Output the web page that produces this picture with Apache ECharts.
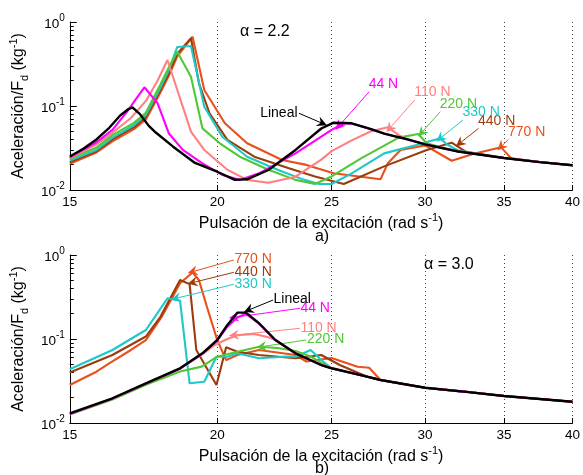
<!DOCTYPE html>
<html><head><meta charset="utf-8">
<script src="https://cdn.jsdelivr.net/npm/echarts@6/dist/echarts.min.js"></script>
<style>html,body{margin:0;padding:0;background:#fff}#c{width:583px;height:475px}</style>
</head><body><div id="c"></div>
<script>
const FONT = '"Liberation Sans", Arial, sans-serif';
const xTicks = [15, 20, 25, 30, 35, 40];
const yMajor = [0.01, 0.1, 1];
const yMinor = [0.02,0.03,0.04,0.05,0.06,0.07,0.08,0.09,0.2,0.3,0.4,0.5,0.6,0.7,0.8,0.9];
const names = ['770 N', '440 N', '330 N', '220 N', '110 N', '44 N', 'Lineal'];
const colors = ['#e8501c', '#9c3c0c', '#1ec8c8', '#4fc834', '#ff8080', '#ff00ff', '#000000'];
const panelTitles = ['α = 2.2', 'α = 3.0'];
const panelTags = ['a)', 'b)'];

// ---- panel a) alpha = 2.2 ----
const top770 = [[15,0.0205],[15.8,0.028],[16.3,0.038],[17.0,0.053],[17.4,0.069],[17.9,0.145],[18.2,0.23],[18.5,0.39],[19.06,0.669],[19.5,0.155],[20.3,0.0623],[21.2,0.036],[22.7,0.0228],[23.8,0.0199],[25.1,0.0158],[27.5,0.0134],[27.9,0.0208],[28.6,0.030],[30.0,0.034],[31.6,0.0223],[33.0,0.027],[34.8,0.0322],[35.5,0.0238],[37.5,0.0215],[40,0.0197]];
const top440 = [[15,0.0215],[15.8,0.029],[16.3,0.040],[17.0,0.056],[17.4,0.074],[17.9,0.155],[18.2,0.245],[18.5,0.42],[19.0,0.64],[19.3,0.186],[19.7,0.082],[20.4,0.0395],[21.5,0.0249],[23.0,0.0182],[24.2,0.0145],[25.6,0.0118],[27.7,0.0191],[30.1,0.030],[31.6,0.0366],[32.5,0.0285],[35,0.024],[37.5,0.0215],[40,0.0197]];
const top330 = [[15,0.0225],[15.8,0.030],[16.3,0.042],[17.0,0.059],[17.4,0.078],[17.9,0.165],[18.2,0.27],[18.5,0.505],[19.0,0.518],[19.5,0.098],[20.2,0.0431],[21.2,0.0249],[22.5,0.0174],[23.7,0.0132],[24.4,0.0118],[25,0.0118],[26,0.0158],[27.7,0.0273],[29.5,0.0343],[30.9,0.0412],[31.3,0.035],[32,0.0295],[35,0.024],[37.5,0.0215],[40,0.0197]];
const top220 = [[15,0.0235],[15.8,0.032],[16.3,0.045],[17.0,0.063],[17.4,0.083],[17.9,0.18],[18.2,0.29],[18.5,0.443],[19.0,0.223],[19.43,0.0542],[20.1,0.036],[20.9,0.0249],[22.1,0.0174],[23.3,0.0132],[24.2,0.0118],[25,0.0145],[26.5,0.024],[28.5,0.042],[29.6,0.0464],[30.1,0.036],[31,0.032],[32,0.0287],[35,0.024],[37.5,0.0215],[40,0.0197]];
const top110 = [[15,0.024],[15.8,0.035],[16.3,0.048],[16.9,0.072],[17.4,0.115],[17.8,0.2],[18.15,0.353],[18.5,0.155],[19.0,0.0495],[19.5,0.030],[20.4,0.0174],[21.2,0.0132],[22.1,0.0122],[23.3,0.0144],[24.5,0.023],[25,0.029],[26,0.039],[27,0.05],[27.9,0.056],[28.5,0.045],[29,0.040],[30,0.035],[32,0.0287],[35,0.024],[37.5,0.0215],[40,0.0197]];
const top44 = [[15,0.0245],[15.8,0.037],[16.3,0.052],[16.8,0.088],[17.0,0.112],[17.35,0.167],[17.8,0.108],[18.2,0.047],[18.7,0.030],[19.43,0.0208],[20.2,0.0151],[20.9,0.0132],[21.7,0.0158],[23.3,0.0273],[24.5,0.0431],[25.0,0.052],[25.6,0.062],[26.0,0.0618],[27,0.053],[27.7,0.047],[28.4,0.043],[29,0.040],[30,0.035],[32,0.0287],[35,0.024],[37.5,0.0215],[40,0.0197]];
const topLineal = [[15,0.025],[15.4,0.031],[15.8,0.040],[16.2,0.055],[16.55,0.077],[16.8,0.091],[16.95,0.0965],[17.2,0.080],[17.5,0.058],[17.75,0.048],[18.34,0.033],[19.15,0.021],[20,0.0165],[20.7,0.0132],[21.2,0.0134],[22.1,0.0173],[23.3,0.030],[24.5,0.054],[25.1,0.0633],[26.0,0.0622],[27,0.053],[27.7,0.047],[28.4,0.043],[29,0.040],[30,0.035],[32,0.0287],[35,0.024],[37.5,0.0215],[40,0.0197]];

// ---- panel b) alpha = 3.0 ----
const bot770 = [[15,0.0283],[15.8,0.0408],[16.3,0.054],[16.9,0.074],[17.4,0.097],[17.95,0.184],[18.6,0.46],[19.06,0.62],[19.3,0.50],[19.6,0.242],[20.0,0.097],[20.35,0.056],[20.8,0.0645],[21.7,0.074],[23.3,0.0645],[23.8,0.054],[25,0.0595],[26.3,0.0468],[26.9,0.0455],[27.5,0.0325],[30,0.0263],[32.5,0.0235],[35,0.021],[40,0.0179]];
const bot440 = [[15,0.040],[16.3,0.0645],[17.4,0.107],[17.9,0.184],[18.6,0.504],[18.95,0.45],[19.2,0.074],[19.97,0.0283],[20.35,0.0796],[20.8,0.0706],[21.7,0.0645],[23.3,0.0589],[24.5,0.0645],[25.4,0.049],[26.8,0.0356],[27.5,0.0325],[30,0.0263],[32.5,0.0235],[35,0.021],[40,0.0179]];
const bot330 = [[15,0.0436],[16.3,0.074],[17.4,0.128],[18.15,0.305],[18.6,0.285],[18.95,0.0297],[19.5,0.031],[19.97,0.0616],[20.4,0.0616],[20.8,0.0676],[21.7,0.0589],[22.9,0.062],[23.3,0.0616],[24.0,0.074],[24.5,0.0562],[25,0.0448],[26.8,0.0356],[27.5,0.0325],[30,0.0263],[32.5,0.0235],[35,0.021],[40,0.0179]];
const bot220 = [[15,0.0126],[16.3,0.019],[17.4,0.0285],[18.6,0.041],[19.4,0.0469],[20,0.0616],[20.8,0.0706],[21.7,0.081],[22.5,0.078],[23.3,0.072],[24,0.062],[24.5,0.052],[25,0.0448],[26.8,0.0356],[27.5,0.0325],[30,0.0263],[32.5,0.0235],[35,0.021],[40,0.0179]];
const bot110 = [[15,0.0128],[16.3,0.0195],[17.4,0.0294],[18.6,0.0445],[19.43,0.066],[19.9,0.085],[20.4,0.10],[20.8,0.111],[21.5,0.115],[22.1,0.105],[22.4,0.0973],[23.3,0.0676],[24.5,0.049],[25,0.0448],[26.8,0.0356],[27.5,0.0325],[30,0.0263],[32.5,0.0235],[35,0.021],[40,0.0179]];
const bot44 = [[15,0.0128],[16.3,0.0195],[17.4,0.0294],[18.6,0.0445],[19.43,0.067],[20,0.096],[20.4,0.14],[20.8,0.18],[21.15,0.2],[21.7,0.152],[22.4,0.0973],[23.3,0.0676],[24.5,0.049],[25,0.0448],[26.8,0.0356],[27.5,0.0325],[30,0.0263],[32.5,0.0235],[35,0.021],[40,0.0179]];
const botLineal = [[15,0.013],[16.3,0.0197],[17.4,0.0297],[18.6,0.0448],[19.43,0.0676],[20,0.0973],[20.4,0.147],[20.8,0.206],[21.15,0.206],[21.7,0.154],[22.4,0.0973],[23.3,0.0676],[24.5,0.049],[25,0.0448],[26.8,0.0356],[27.5,0.0325],[30,0.0263],[32.5,0.0235],[35,0.021],[40,0.0179]];

// annotation arrows: [label, start point (text anchor), arrow tip]
const topNotes = [
  ['Lineal', [23.46, 0.0819], [24.55, 0.0622]],
  ['44 N', [26.9, 0.148], [25.36, 0.0578]],
  ['110 N', [29.4, 0.118], [28.0, 0.0542]],
  ['220 N', [30.9, 0.0856], [29.8, 0.0481]],
  ['330 N', [32.3, 0.068], [30.9, 0.0412]],
  ['440 N', [33.3, 0.0542], [32.1, 0.036]],
  ['770 N', [35.3, 0.0401], [34.8, 0.0328]]
];
const botNotes = [
  ['770 N', [20.66, 0.872], [19.06, 0.633]],
  ['440 N', [20.66, 0.622], [19.06, 0.469]],
  ['330 N', [20.66, 0.448], [18.45, 0.305]],
  ['Lineal', [22.3, 0.291], [21.26, 0.221]],
  ['44 N', [23.5, 0.232], [20.66, 0.181]],
  ['110 N', [23.5, 0.134], [20.66, 0.111]],
  ['220 N', [23.8, 0.0973], [21.8, 0.081]]
];

const panels = [
  [top770, top440, top330, top220, top110, top44, topLineal],
  [bot770, bot440, bot330, bot220, bot110, bot44, botLineal]
];
const notes = [topNotes, botNotes];
const ARROW = 'path://M5,0 L10,12 L5,8 L0,12 Z';

const series = [];
panels.forEach((sets, gi) => {
  sets.forEach((data, k) => {
    const nm = names[k], col = colors[k];
    const note = notes[gi].find(n => n[0] === nm);
    const s = {
      type: 'line', name: nm, xAxisIndex: gi, yAxisIndex: gi, data: data,
      symbol: 'none', showSymbol: false, silent: true, animation: false,
      lineStyle: { color: col, width: nm === 'Lineal' ? 2.4 : 2.1 },
      itemStyle: { color: col }, z: 2 + k
    };
    if (note) {
      let lab;
      if (gi === 0 && nm === 'Lineal') lab = { align: 'right', verticalAlign: 'middle', offset: [-1, 0] };
      else if (gi === 0) lab = { align: 'left', verticalAlign: 'bottom', offset: [0, 0] };
      else lab = { align: 'left', verticalAlign: 'middle', offset: [1, 0] };
      s.markLine = {
        silent: true, animation: false, symbol: ['none', ARROW], symbolSize: 10,
        lineStyle: { color: col, width: 1, type: 'solid' }, itemStyle: { color: col },
        label: { show: false }, emphasis: { disabled: true },
        data: [[{ coord: note[1] }, { coord: note[2] }]]
      };
      s.markPoint = {
        silent: true, animation: false, symbol: 'circle', symbolSize: 1,
        itemStyle: { color: 'rgba(0,0,0,0)' },
        label: Object.assign({ show: true, position: [0, 0], formatter: nm, color: nm === 'Lineal' ? '#000' : col,
          fontSize: 14, fontFamily: FONT }, lab),
        data: [{ coord: note[1], name: nm }]
      };
    }
    series.push(s);
  });
});

const grids = [
  { left: 66, top: 22, width: 508, height: 168 },
  { left: 66, top: 255, width: 508, height: 168 }
];

const xAxes = [0, 1].map(gi => ({
  type: 'log', logBase: 10, gridIndex: gi, min: 15, max: 40,
  axisLine: { show: true, onZero: false, lineStyle: { color: '#000', width: 1 } },
  axisTick: { show: true, inside: true, length: 5, customValues: xTicks, lineStyle: { color: '#000' } },
  axisLabel: { customValues: xTicks, color: '#000', fontSize: 13.5, fontFamily: FONT, margin: 5,
    formatter: v => String(Math.round(v)) },
  splitLine: { show: true, lineStyle: { color: '#444', width: 1, type: [1, 3] } },
  name: '{n|Pulsación de la excitación (rad s}{s|-1}{n|)}',
  nameLocation: 'middle', nameGap: 22,
  nameTextStyle: { rich: {
    n: { fontSize: 16, fontFamily: FONT, color: '#000', lineHeight: 20, verticalAlign: 'bottom' },
    s: { fontSize: 11, fontFamily: FONT, color: '#000', lineHeight: 20, verticalAlign: 'top' } } }
}));

const yRich = {
  b: { fontSize: 13.5, fontFamily: FONT, color: '#000', lineHeight: 18, verticalAlign: 'bottom' },
  s: { fontSize: 10, fontFamily: FONT, color: '#000', lineHeight: 18, verticalAlign: 'top' }
};
const yAxes = [0, 1].map(gi => ({
  type: 'log', logBase: 10, gridIndex: gi, min: 0.01, max: 1, position: 'left',
  axisLine: { show: true, onZero: false, lineStyle: { color: '#000', width: 1 } },
  axisTick: { show: true, inside: true, length: 7, customValues: yMajor, lineStyle: { color: '#000' } },
  axisLabel: { customValues: yMajor, margin: 5, rich: yRich,
    formatter: v => '{b|10}{s|' + Math.round(Math.log10(v)) + '}' },
  splitLine: { show: false },
  name: '{n|Aceleración/F}{d|d}{n| (kg}{u|-1}{n|)}',
  nameLocation: 'middle', nameGap: 35, nameRotate: 90,
  nameTextStyle: { rich: {
    n: { fontSize: 16, fontFamily: FONT, color: '#000', lineHeight: 22, verticalAlign: 'middle' },
    d: { fontSize: 11, fontFamily: FONT, color: '#000', lineHeight: 22, verticalAlign: 'bottom' },
    u: { fontSize: 11, fontFamily: FONT, color: '#000', lineHeight: 22, verticalAlign: 'top' } } }
})).concat([0, 1].map(gi => ({
  type: 'log', logBase: 10, gridIndex: gi, min: 0.01, max: 1, position: 'left',
  axisLine: { show: false },
  axisTick: { show: true, inside: true, length: 4, customValues: yMinor, lineStyle: { color: '#000' } },
  axisLabel: { show: false }, splitLine: { show: false }
})));

const graphic = [
  { type: 'text', x: 240, y: 32, style: { text: panelTitles[0], font: '16px ' + FONT, fill: '#000', textVerticalAlign: 'middle' } },
  { type: 'text', x: 424, y: 265, style: { text: panelTitles[1], font: '16px ' + FONT, fill: '#000', textVerticalAlign: 'middle' } },
  { type: 'text', x: 322, y: 237, style: { text: panelTags[0], font: '16px ' + FONT, fill: '#000', textAlign: 'center', textVerticalAlign: 'middle' } },
  { type: 'text', x: 322, y: 469, style: { text: panelTags[1], font: '16px ' + FONT, fill: '#000', textAlign: 'center', textVerticalAlign: 'middle' } }
];

const chart = echarts.init(document.getElementById('c'), null, { renderer: 'canvas' });
chart.setOption({
  animation: false, backgroundColor: '#fff',
  grid: grids, xAxis: xAxes, yAxis: yAxes, series: series, graphic: graphic
});
</script></body></html>
